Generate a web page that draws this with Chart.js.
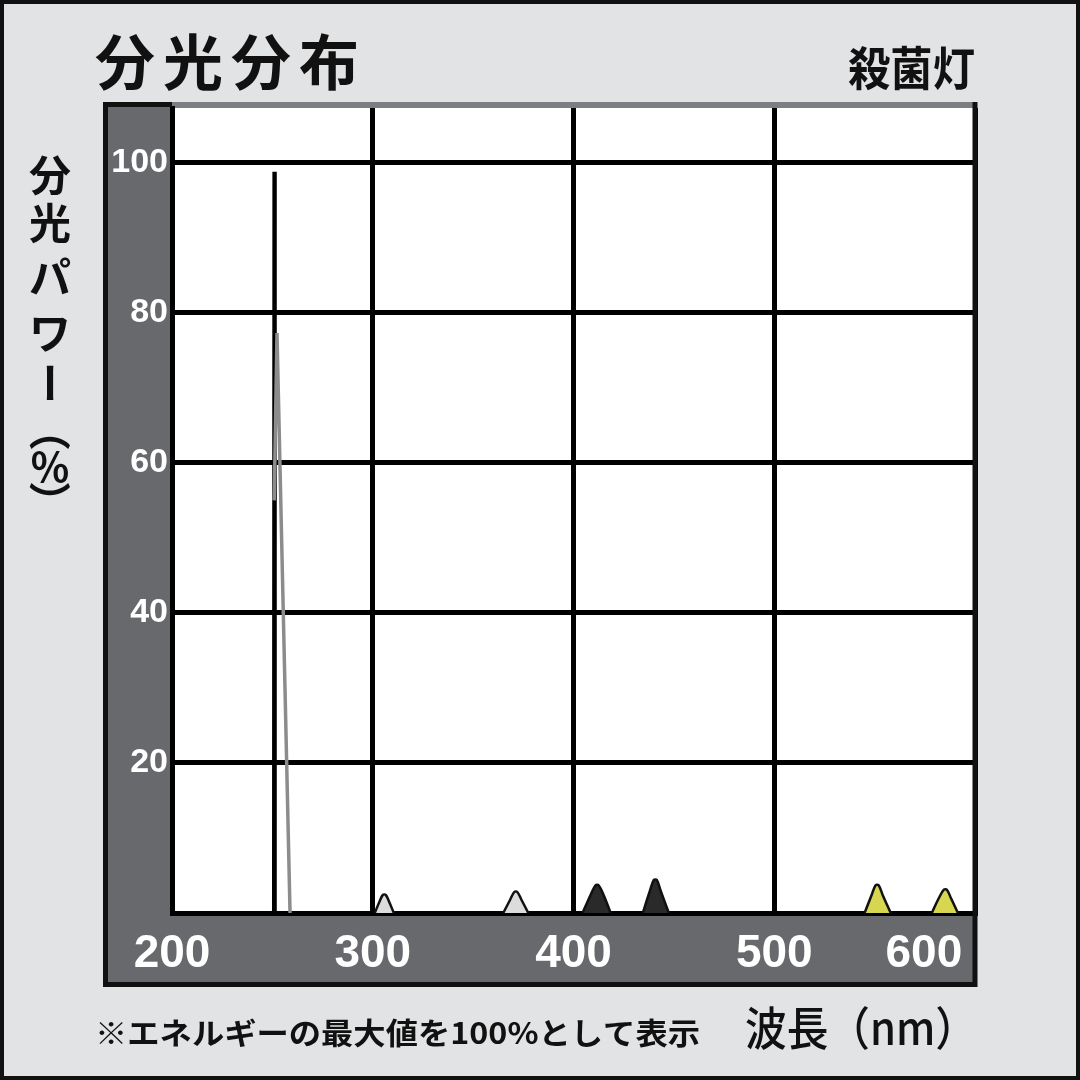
<!DOCTYPE html>
<html>
<head>
<meta charset="utf-8">
<script src="https://cdn.jsdelivr.net/npm/chart.js@4.4.1/dist/chart.umd.min.js"></script>
<style>
  html, body { margin: 0; padding: 0; background: #e2e3e5; }
  canvas { display: block; }
</style>
</head>
<body>
<canvas id="chart" width="1080" height="1080"></canvas>
<script>
// axis ticks
const xTicks = [200, 300, 400, 500, 600];
const yTicks = [20, 40, 60, 80, 100];

// main mercury line (black) and its grey shadow
const mainNm = [250.8, 251.0, 251.2];
const mainPower = [0, 98.8, 0];
const shadowNm = [250.9, 252.3, 258.8];
const shadowPower = [55, 77.3, 0];

// small peaks
const peakANm = [301, 303.5, 305, 306.5, 308, 310.5];
const peakAPower = [0, 1.6, 2.4, 2.4, 1.6, 0];
const peakBNm = [365, 368.5, 370.5, 372, 374, 377.5];
const peakBPower = [0, 1.8, 2.8, 2.8, 1.8, 0];
const peakCNm = [404.5, 408.5, 411, 412.5, 415, 418.5];
const peakCPower = [0, 2.4, 3.7, 3.7, 2.4, 0];
const peakDNm = [434.5, 438, 440, 441.5, 443.5, 447.5];
const peakDPower = [0, 2.9, 4.4, 4.4, 2.9, 0];
const peakENm = [545, 548.5, 550.5, 552, 554, 558];
const peakEPower = [0, 2.4, 3.7, 3.7, 2.4, 0];
const peakFNm = [578.5, 582, 584.5, 586, 588, 591.5];
const peakFPower = [0, 2, 3.1, 3.1, 2, 0];

const toPoints = (xs, ys) => xs.map((x, i) => ({ x: x, y: ys[i] }));

const peak = (xs, ys, fillColor) => ({
  data: toPoints(xs, ys),
  borderColor: '#111',
  borderWidth: 2.5,
  backgroundColor: fillColor,
  fill: 'origin',
  tension: 0.35,
  pointRadius: 0
});

const JP = '"Noto Sans CJK JP", "Noto Sans", sans-serif';

// draw text squeezed to a given width
function fitText(ctx, text, x, y, width, font) {
  ctx.save();
  ctx.font = font;
  const w = ctx.measureText(text).width;
  ctx.translate(x, y);
  ctx.scale(width / w, 1);
  ctx.fillText(text, 0, 0);
  ctx.restore();
}

// frame, bands and texts around the plot
const framePlugin = {
  id: 'frame',
  beforeDraw(chart) {
    const ctx = chart.ctx;
    const a = chart.chartArea;
    ctx.save();
    ctx.fillStyle = '#e2e3e5';
    ctx.fillRect(0, 0, 1080, 1080);
    // dark bands
    ctx.fillStyle = '#68696d';
    ctx.fillRect(105, 103, a.right - 105, 985 - 103);
    ctx.fillStyle = '#fff';
    ctx.fillRect(a.left, a.top, a.right - a.left, a.bottom - a.top);
    // grey strip on top of the plot
    ctx.fillStyle = '#7d7e82';
    ctx.fillRect(a.left, 102, a.right - a.left, 6);
    ctx.restore();
  },
  afterDraw(chart) {
    const ctx = chart.ctx;
    const a = chart.chartArea;
    ctx.save();
    ctx.fillStyle = '#111';
    ctx.fillRect(103, 102, 5, 885);          // left frame
    ctx.fillRect(103, 982, a.right - 101, 5); // bottom frame
    ctx.fillRect(a.right - 2.5, 102, 5, 885); // right frame
    ctx.fillRect(103, 102, 69, 5);           // top of band

    // outer border
    ctx.lineWidth = 8;
    ctx.strokeStyle = '#111';
    ctx.strokeRect(0, 0, 1080, 1080);

    ctx.fillStyle = '#111';
    ctx.textBaseline = 'middle';
    ctx.textAlign = 'left';
    // title
    const title = '分光分布';
    ctx.font = 'bold 60px ' + JP;
    for (let i = 0; i < title.length; i++) {
      ctx.fillText(title[i], 95 + i * 68, 62);
    }
    fitText(ctx, '殺菌灯', 848, 68, 127, 'bold 46px ' + JP);

    // vertical y axis title
    ctx.font = 'bold 42px ' + JP;
    ctx.textAlign = 'center';
    const vChars = [['分', 175], ['光', 223], ['パ', 277], ['ワ', 333]];
    vChars.forEach(([c, y]) => ctx.fillText(c, 50, y));
    const rotChars = [['ー', 383], ['（', 430], ['）', 502]];
    rotChars.forEach(([c, y]) => {
      ctx.save();
      ctx.translate(50, y);
      ctx.rotate(Math.PI / 2);
      ctx.fillText(c, 0, 0);
      ctx.restore();
    });
    ctx.font = 'bold 40px ' + JP;
    ctx.fillText('%', 50, 467);

    // footnote and x axis title
    ctx.textAlign = 'left';
    fitText(ctx, '※エネルギーの最大値を100%として表示', 95, 1033, 605, 'bold 30px ' + JP);
    fitText(ctx, '波長（nm）', 745, 1028, 232, '500 46px ' + JP);
    ctx.restore();
  }
};

new Chart(document.getElementById('chart'), {
  type: 'line',
  data: {
    datasets: [
      peak(peakANm, peakAPower, '#dcdcdc'),
      peak(peakBNm, peakBPower, '#dcdcdc'),
      peak(peakCNm, peakCPower, '#2a2a2a'),
      peak(peakDNm, peakDPower, '#2a2a2a'),
      peak(peakENm, peakEPower, '#d6d650'),
      peak(peakFNm, peakFPower, '#d6d650'),
      {
        data: toPoints(shadowNm, shadowPower),
        borderColor: '#8c8c8c',
        borderWidth: 3.5,
        fill: false,
        pointRadius: 0
      },
      {
        data: toPoints(mainNm, mainPower),
        borderColor: '#000',
        borderWidth: 4,
        fill: false,
        pointRadius: 0
      }
    ]
  },
  options: {
    responsive: false,
    animation: false,
    devicePixelRatio: 1,
    layout: { padding: { left: 105, right: 105, top: 108, bottom: 95 } },
    plugins: {
      legend: { display: false },
      tooltip: { enabled: false }
    },
    scales: {
      x: {
        type: 'linear',
        min: 200,
        max: 600,
        afterFit: (s) => { s.height = 72; },
        afterBuildTicks: (s) => { s.ticks = xTicks.map(v => ({ value: v })); },
        grid: { color: '#000', lineWidth: 5, drawTicks: false },
        border: { color: '#000', width: 5 },
        ticks: {
          color: '#fff',
          padding: 14,
          maxRotation: 0,
          // keep the last label inside the frame
          callback: (v) => (v === 600 ? '600        ' : String(v)),
          font: { family: '"Liberation Sans", Arial, sans-serif', size: 46, weight: 'bold' }
        }
      },
      y: {
        type: 'linear',
        min: 0,
        max: 107.3,
        afterFit: (s) => { s.width = 67; },
        afterBuildTicks: (s) => { s.ticks = yTicks.map(v => ({ value: v })); },
        grid: { color: '#000', lineWidth: 5, drawTicks: false },
        border: { color: '#000', width: 5 },
        ticks: {
          color: '#fff',
          padding: 4,
          font: { family: '"Liberation Sans", Arial, sans-serif', size: 34, weight: 'bold' }
        }
      }
    }
  },
  plugins: [framePlugin]
});
</script>
</body>
</html>
